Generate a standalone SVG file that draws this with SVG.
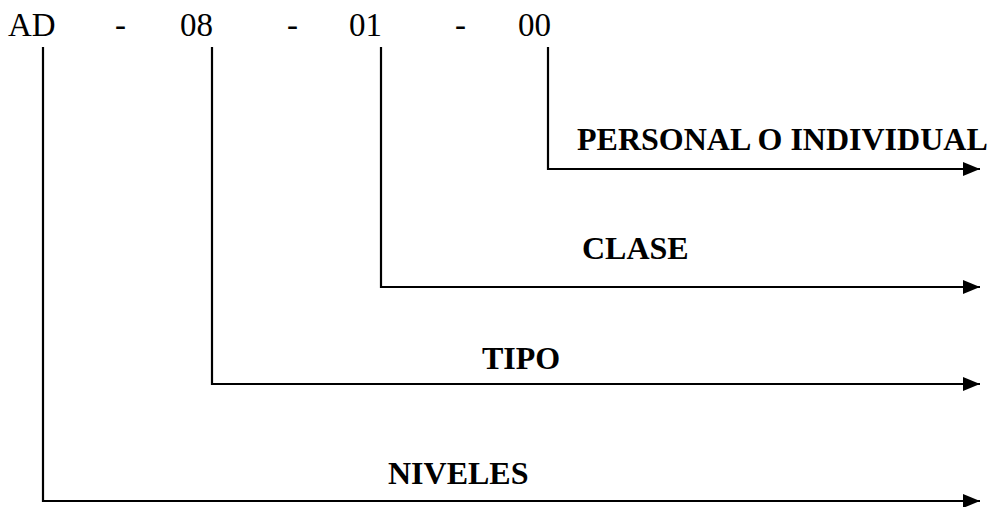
<svg xmlns="http://www.w3.org/2000/svg" width="1000" height="507" viewBox="0 0 1000 507">
  <style>
    .code { font-family: "Liberation Serif", "Times New Roman", serif; font-size: 33px; fill: #000; }
    .label { font-family: "Liberation Serif", "Times New Roman", serif; font-size: 32px; font-weight: bold; fill: #000; }
    .conn { fill: none; stroke: #000; stroke-width: 2.2; marker-end: url(#arrow); }
  </style>
  <defs>
    <marker id="arrow" markerUnits="userSpaceOnUse" markerWidth="18" markerHeight="14" refX="17" refY="7" orient="auto">
      <path d="M0,0 L17,7 L0,14 Z" fill="#000"/>
    </marker>
  </defs>
  <rect width="1000" height="507" fill="#fff"/>

  <!-- code segments -->
  <g id="code">
    <text class="code" x="8" y="36">AD</text>
    <text class="code" x="115" y="36">-</text>
    <text class="code" x="180" y="36">08</text>
    <text class="code" x="287" y="36">-</text>
    <text class="code" x="349" y="36">01</text>
    <text class="code" x="455" y="36">-</text>
    <text class="code" x="518" y="36">00</text>
  </g>

  <!-- connectors from each segment to its meaning -->
  <g id="connectors">
    <path class="conn" d="M548,47 V169 H980"/>
    <path class="conn" d="M381,47 V287 H980"/>
    <path class="conn" d="M212,47 V384 H980"/>
    <path class="conn" d="M43,47 V501 H980"/>
  </g>

  <g id="personal">
    <text class="label" x="577" y="150">PERSONAL O INDIVIDUAL</text>
  </g>
  <g id="clase">
    <text class="label" x="582" y="259">CLASE</text>
  </g>
  <g id="tipo">
    <text class="label" x="482" y="369">TIPO</text>
  </g>
  <g id="niveles">
    <text class="label" x="388" y="484">NIVELES</text>
  </g>
</svg>
